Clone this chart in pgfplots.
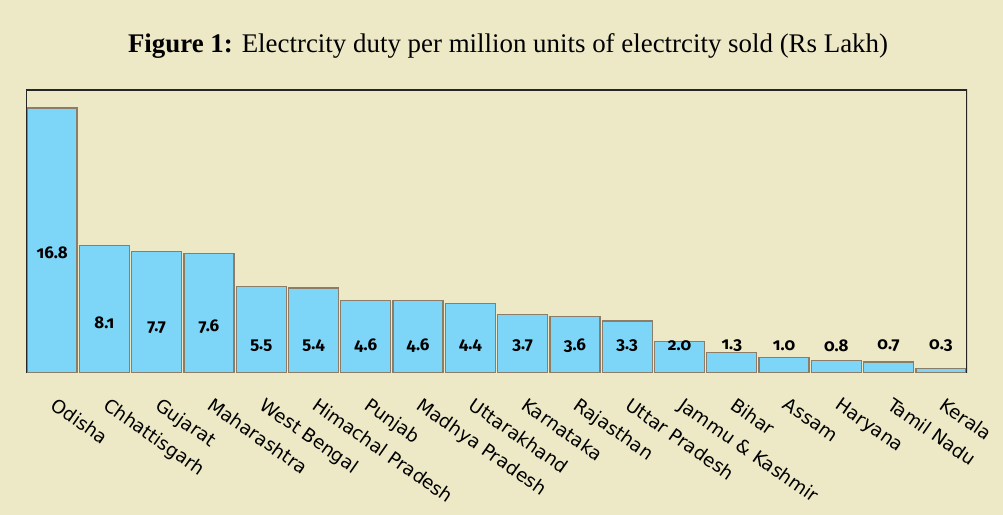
\documentclass[border=0pt]{standalone}
\usepackage{pgfplots}
\pgfplotsset{compat=1.18}
\usepackage{fontspec}
\setmainfont{Liberation Serif}
\newfontfamily\labfont{DejaVu Sans}
\newfontfamily\valfont[Numbers=OldStyle]{Fira Sans}
\definecolor{bg}{RGB}{237,233,199}
\definecolor{barblue}{RGB}{125,214,248}
\definecolor{baredge}{RGB}{140,125,105}
\begin{document}
\begin{tikzpicture}[x=1bp,y=1bp]
\fill[bg] (-26,-142) rectangle (977,373);
\begin{axis}[at={(0,0)}, anchor=south west, scale only axis,
  width=941bp, height=283bp,
  xmin=-0.5, xmax=17.5, ymin=0, ymax=17.95,
  axis line style={draw=none},
  ytick=\empty,
  xtick={0,1,...,17},
  xticklabels={Odisha,Chhattisgarh,Gujarat,Maharashtra,West Bengal,Himachal Pradesh,Punjab,Madhya Pradesh,Uttarakhand,Karnataka,Rajasthan,Uttar Pradesh,Jammu \& Kashmir,Bihar,Assam,Haryana,Tamil Nadu,Kerala},
  major tick length=0pt,
  xticklabel style={font=\labfont\fontsize{18.5}{19}\selectfont, rotate=-35, anchor=north west, inner sep=0pt, yshift=-16bp, xshift=18bp},
  /pgf/number format/assume math mode=true,
]
\addplot[ybar, bar width=50bp, fill=barblue, draw=baredge, line width=1.3bp]
 coordinates {(0,16.8) (1,8.1) (2,7.7) (3,7.6) (4,5.5) (5,5.4) (6,4.6) (7,4.6) (8,4.4) (9,3.7) (10,3.6) (11,3.3) (12,2.0) (13,1.3) (14,1.0) (15,0.8) (16,0.7) (17,0.3)};
\addplot[draw=none, mark=none, point meta=explicit,
  nodes near coords={\pgfmathprintnumber[fixed,fixed zerofill,precision=1]{\pgfplotspointmeta}},
  every node near coord/.style={anchor=center, inner sep=0pt, text=black, font=\valfont\bfseries\fontsize{17}{17}\selectfont}]
 coordinates {(0,7.6) [16.8] (1,3.2) [8.1] (2,2.9) [7.7] (3,2.95) [7.6] (4,1.7) [5.5] (5,1.75) [5.4] (6,1.75) [4.6] (7,1.75) [4.6] (8,1.75) [4.4] (9,1.75) [3.7] (10,1.75) [3.6] (11,1.75) [3.3] (12,1.75) [2.0] (13,1.75) [1.3] (14,1.75) [1.0] (15,1.75) [0.8] (16,1.75) [0.7] (17,1.75) [0.3]};
\draw[line width=2bp, black!85] (rel axis cs:0,0) |- (rel axis cs:1,1) -- (rel axis cs:1,0);
\end{axis}
\node[anchor=center] at (482,327) {\fontsize{27}{27}\selectfont\textbf{Figure 1:} Electrcity duty per million units of electrcity sold (Rs Lakh)};
\pgfresetboundingbox
\useasboundingbox (-26,-142) rectangle (977,373);
\end{tikzpicture}
\end{document}
